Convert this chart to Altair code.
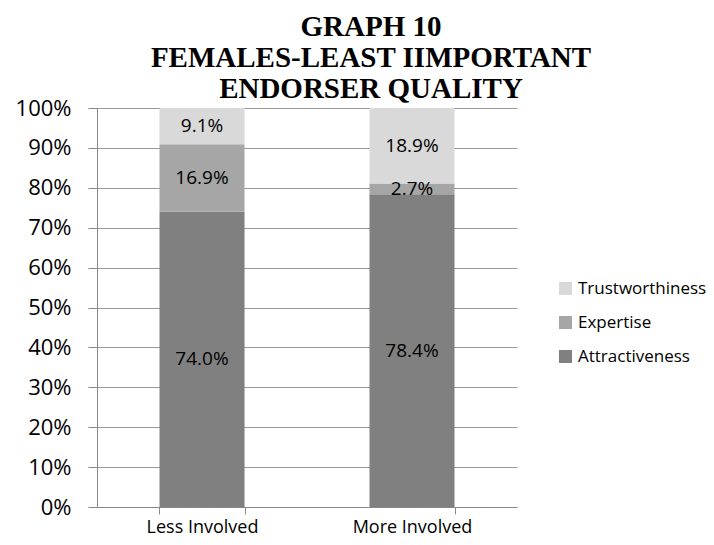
import altair as alt
import pandas as pd

categories = ["Less Involved", "More Involved"]
series = ["Attractiveness", "Expertise", "Trustworthiness"]
attractiveness = [74.0, 78.4]
expertise = [16.9, 2.7]
trustworthiness = [9.1, 18.9]
y_ticks = [0, 10, 20, 30, 40, 50, 60, 70, 80, 90, 100]
colors = {"Trustworthiness": "#d9d9d9", "Expertise": "#a6a6a6", "Attractiveness": "#808080"}
legend_order = ["Trustworthiness", "Expertise", "Attractiveness"]

rows = []
for i, c in enumerate(categories):
    for k, (s, vals) in enumerate(zip(series, [attractiveness, expertise, trustworthiness])):
        rows.append({"category": c, "series": s, "value": vals[i], "order": k})
df = pd.DataFrame(rows)

base = alt.Chart(df).transform_stack(
    stack="value", groupby=["category"], as_=["y0", "y1"],
    sort=[alt.SortField("order", order="ascending")]
)

x_axis = alt.Axis(labelAngle=0, tickBand="extent", labelFont="Open Sans",
                  labelFontSize=18, labelColor="#000000", labelPadding=4,
                  domainColor="#888888", tickColor="#888888", tickSize=7,
                  grid=False)
y_axis = alt.Axis(values=y_ticks, labelExpr="datum.value + '%'",
                  labelFont="Open Sans", labelFontSize=22, labelColor="#000000",
                  labelPadding=17, tickSize=9, tickColor="#888888",
                  labelOverlap=False,
                  domainColor="#888888", gridColor="#999999", grid=True)
x_scale = alt.Scale(paddingInner=0.595, paddingOuter=0.2976)
y_scale = alt.Scale(domain=[0, 100], nice=False)

bars = base.mark_bar().encode(
    x=alt.X("category:N", title=None, sort=categories, scale=x_scale, axis=x_axis),
    y=alt.Y("y0:Q", title=None, scale=y_scale, axis=y_axis),
    y2="y1:Q",
    color=alt.Color("series:N",
                    scale=alt.Scale(domain=legend_order, range=[colors[s] for s in legend_order]),
                    legend=alt.Legend(title=None, orient="none", legendX=460, legendY=172,
                                      symbolType="square", symbolSize=169, symbolStrokeWidth=0,
                                      labelFont="Open Sans", labelFontSize=17,
                                      labelColor="#000000", rowPadding=16, labelOffset=4)),
)

labels = base.transform_calculate(
    mid="(datum.y0 + datum.y1) / 2",
    label="format(datum.value, '.1f') + '%'"
).mark_text(font="Open Sans", fontSize=19, color="#000000").encode(
    x=alt.X("category:N", title=None, sort=categories, scale=x_scale, axis=x_axis),
    y=alt.Y("mid:Q", title=None, scale=y_scale, axis=y_axis),
    text="label:N",
)

chart = alt.layer(bars, labels).properties(
    width=420, height=399,
    autosize=alt.AutoSizeParams(type="none"),
    padding={"left": 89, "top": 100, "right": 189, "bottom": 30},
    title=alt.Title(["GRAPH 10", "FEMALES-LEAST IIMPORTANT", "ENDORSER QUALITY"],
                    font="Liberation Serif", fontSize=29, fontWeight="bold",
                    lineHeight=31, anchor="middle", dx=64, offset=-7, color="#000000"),
).configure_view(stroke=None)

chart.save("out.html", embed_options={"renderer": "svg", "actions": False})
